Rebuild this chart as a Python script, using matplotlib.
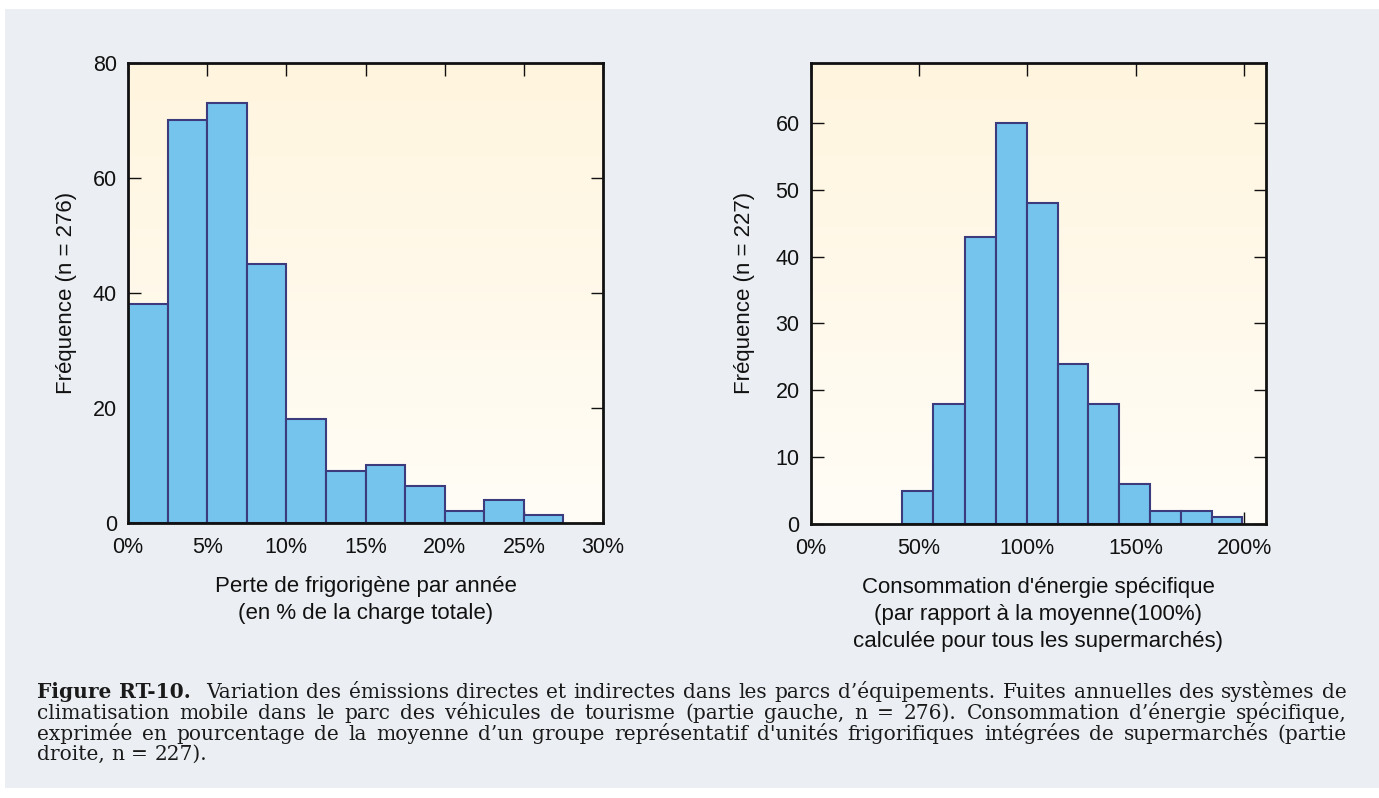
import numpy as np
import matplotlib.pyplot as plt
from matplotlib.colors import LinearSegmentedColormap
from matplotlib.patches import Rectangle

# left panel: refrigerant loss per year (% of total charge)
left_edges = [0, 2.5, 5, 7.5, 10, 12.5, 15, 17.5, 20, 22.5, 25, 27.5]
left_counts = [38, 70, 73, 45, 18, 9, 10, 6.4, 2, 4, 1.3]
left_xticks = [0, 5, 10, 15, 20, 25, 30]
left_yticks = [0, 20, 40, 60, 80]

# right panel: specific energy consumption (% of average)
right_edges = [42.3, 56.6, 71.0, 85.4, 99.8, 114.0, 128.2, 142.4, 156.6, 170.8, 185.0, 199.2]
right_counts = [5, 18, 43, 60, 48, 24, 18, 6, 2, 2, 1]
right_xticks = [0, 50, 100, 150, 200]
right_yticks = [0, 10, 20, 30, 40, 50, 60]

caption_lines = [
    "Figure RT-10.  Variation des émissions directes et indirectes dans les parcs d’équipements. Fuites annuelles des systèmes de",
    "climatisation mobile dans le parc des véhicules de tourisme (partie gauche, n = 276). Consommation d’énergie spécifique,",
    "exprimée en pourcentage de la moyenne d’un groupe représentatif d'unités frigorifiques intégrées de supermarchés (partie",
    "droite, n = 227).",
]

W, H = 1379, 798
plt.rcParams['font.family'] = ['Liberation Sans', 'DejaVu Sans']
fig = plt.figure(figsize=(W / 100, H / 100), dpi=100)
fig.patch.set_facecolor('white')
fig.patches.append(Rectangle((5 / W, 10 / H), 1 - 5 / W, 1 - 19 / H, transform=fig.transFigure,
                             facecolor='#ebeff3', edgecolor='none', zorder=-10))

bar_face = '#74c4ee'
bar_edge = '#3b3b7e'
grad = LinearSegmentedColormap.from_list('bg', ['#fffdf7', '#fff5de'])


def setup(ax, edges, counts, xlim, ylim, xticks, yticks, xlabel, ylabel):
    ax.set_facecolor('none')
    ax.imshow(np.linspace(0, 1, 256).reshape(-1, 1), cmap=grad, origin='lower',
              extent=[0, 1, 0, 1], transform=ax.transAxes, aspect='auto', zorder=0)
    widths = np.diff(edges)
    ax.bar(edges[:-1], counts, width=widths, align='edge', color=bar_face,
           edgecolor=bar_edge, linewidth=1.5, zorder=2)
    ax.set_xlim(*xlim)
    ax.set_ylim(*ylim)
    ax.set_xticks(xticks)
    ax.set_xticklabels([f"{t}%" for t in xticks])
    ax.set_yticks(yticks)
    ax.tick_params(direction='in', length=9, width=1, top=True, right=True,
                   labelsize=15.5, colors='#111111', pad=8)
    ax.tick_params(axis='x', pad=10)
    for s in ax.spines.values():
        s.set_linewidth(2)
        s.set_color('#111111')
        s.set_zorder(5)
    ax.set_xlabel(xlabel, fontsize=16, linespacing=1.38, labelpad=13, color='#111111')
    ax.set_ylabel(ylabel, fontsize=16, color='#111111')


ax1 = fig.add_axes([128 / W, 1 - 522.7 / H, 475 / W, 460 / H])
setup(ax1, left_edges, left_counts, (0, 30), (0, 80), left_xticks, left_yticks,
      "Perte de frigorigène par année\n(en % de la charge totale)", "Fréquence (n = 276)")
ax1.yaxis.set_label_coords(-0.108, 0.5)

ax2 = fig.add_axes([810.7 / W, 1 - 524 / H, 455 / W, 461.3 / H])
setup(ax2, right_edges, right_counts, (0, 210), (0, 69), right_xticks, right_yticks,
      "Consommation d'énergie spécifique\n(par rapport à la moyenne(100%)\ncalculée pour tous les supermarchés)",
      "Fréquence (n = 227)")
ax2.yaxis.set_label_coords(-0.122, 0.5)

# caption, justified line by line
renderer = fig.canvas.get_renderer()
x0, x1 = 37, 1347
baselines = [698, 719, 740, 760]
cap_size = 14.5
probe = fig.text(0, 0, caption_lines[1], family='DejaVu Serif', fontsize=cap_size)
natural = probe.get_window_extent(renderer).width
probe.remove()
if natural > (x1 - x0) - 20:
    cap_size *= ((x1 - x0) - 20) / natural
cap_font = dict(family='DejaVu Serif', fontsize=cap_size, color='#1a1a1a', va='baseline')
for i, line in enumerate(caption_lines):
    words = line.split()
    texts = []
    for j, w in enumerate(words):
        bold = i == 0 and j < 2
        texts.append(fig.text(0, 1 - baselines[i] / H, w, fontweight='bold' if bold else 'normal', **cap_font))
    widths = [t.get_window_extent(renderer).width for t in texts]
    extra = 8 if i == 0 else 0
    if i < len(caption_lines) - 1:
        gap = (x1 - x0 - sum(widths) - extra) / (len(words) - 1)
    else:
        gap = cap_size * 0.45
    x = x0
    for j, (t, w) in enumerate(zip(texts, widths)):
        t.set_x(x / W)
        x += w + gap
        if i == 0 and j == 1:
            x += extra

fig.savefig('out.png', dpi=100)
